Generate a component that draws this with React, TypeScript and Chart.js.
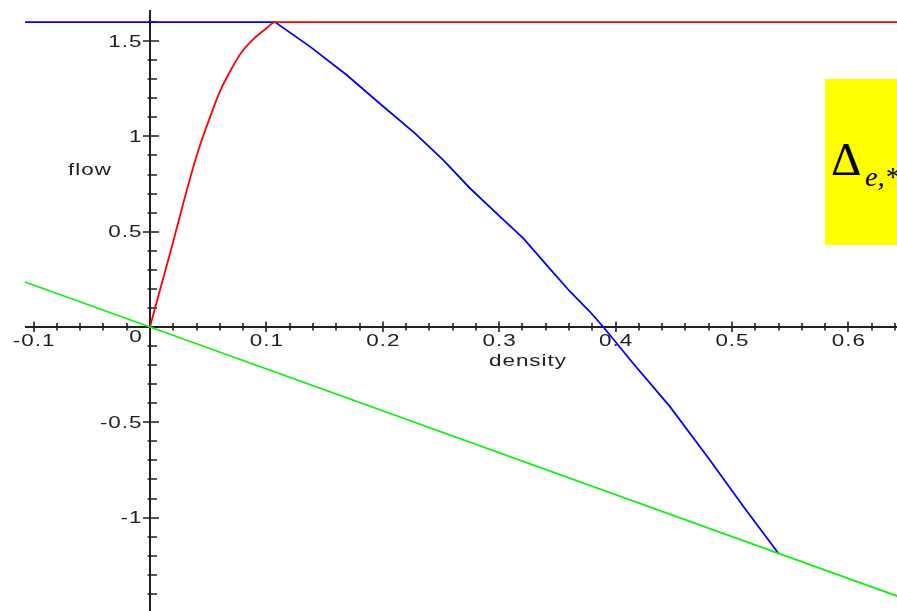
import React, { useEffect, useRef } from "react";
import { Chart, registerables } from "chart.js";

Chart.register(...registerables);

// Free-flow branch (red): density -> flow, then the capacity plateau
const redDensity = [0, 0.0043, 0.012, 0.02, 0.0286, 0.0372, 0.043, 0.0515, 0.06, 0.0687, 0.0773, 0.0888, 0.1, 0.1074, 0.642];
const redFlow = [0, 0.1, 0.27, 0.45, 0.65, 0.84, 0.955, 1.1, 1.235, 1.34, 1.43, 1.51, 1.567, 1.6, 1.6];

// Demand plateau and congested branch (blue)
const blueDensity = [-0.1074, 0.1074, 0.1375, 0.169, 0.1961, 0.2277, 0.252, 0.2749, 0.3007, 0.3208, 0.3408, 0.361, 0.378, 0.3895, 0.415, 0.4467, 0.481, 0.51, 0.54];
const blueFlow = [1.6, 1.6, 1.471, 1.322, 1.179, 1.016, 0.876, 0.728, 0.579, 0.465, 0.325, 0.185, 0.08, 0.0, -0.19, -0.418, -0.698, -0.943, -1.188];

// Straight line through the origin (green)
const greenDensity = [-0.1074, 0, 0.54, 0.642];
const greenFlow = [0.236, 0, -1.188, -1.412];

// Axis ranges and labelled ticks
const xRange = [-0.1289, 0.6418];
const yRange = [-1.49, 1.7156];
const xLabelTicks = [-0.1, 0.1, 0.2, 0.3, 0.4, 0.5, 0.6];
const xTickLabels = ["-0.1", "0.1", "0.2", "0.3", "0.4", "0.5", "0.6"];
const yLabelTicks = [1.5, 1, 0.5, -0.5, -1];
const yTickLabels = ["1.5", "1", "0.5", "-0.5", "-1"];
const xMinorStep = 0.02;
const yMinorStep = 0.1;
const xAxisTitle = "density";
const yAxisTitle = "flow";

const toPoints = (xs: number[], ys: number[]) => xs.map((x, i) => ({ x, y: ys[i] }));

const LABEL_FONT = "16px 'Liberation Sans', Arial, sans-serif";
const LABEL_STRETCH = 1.4;
const LABEL_SPACING = 1;
const INK = "#202020";

// Wide, slightly spaced labels in the style of the plotting package
function spacedText(
  ctx: CanvasRenderingContext2D,
  text: string,
  x: number,
  y: number,
  align: "left" | "center" | "right"
) {
  const chars = [...text];
  const widths = chars.map((c) => ctx.measureText(c).width * LABEL_STRETCH);
  const total = widths.reduce((a, b) => a + b, 0) + LABEL_SPACING * (chars.length - 1);
  let cx = align === "left" ? x : align === "center" ? x - total / 2 : x - total;
  chars.forEach((c, i) => {
    ctx.save();
    ctx.translate(cx, y);
    ctx.scale(LABEL_STRETCH, 1);
    ctx.fillText(c, 0, 0);
    ctx.restore();
    cx += widths[i] + LABEL_SPACING;
  });
}

// Axes crossing at the origin, with major/minor ticks
const crossAxes = {
  id: "crossAxes",
  beforeDatasetsDraw(chart: any) {
    const { ctx, chartArea } = chart;
    const xs = chart.scales.x;
    const ys = chart.scales.y;
    const x0 = Math.round(xs.getPixelForValue(0));
    const y0 = Math.round(ys.getPixelForValue(0));

    ctx.save();
    ctx.strokeStyle = INK;
    ctx.lineWidth = 2;
    ctx.lineCap = "butt";

    ctx.beginPath();
    ctx.moveTo(xs.getPixelForValue(-0.1074), y0);
    ctx.lineTo(chartArea.right, y0);
    ctx.moveTo(x0, ys.getPixelForValue(1.663));
    ctx.lineTo(x0, chartArea.bottom);
    ctx.stroke();

    ctx.lineWidth = 1.6;
    ctx.beginPath();
    for (let k = -5; k <= 32; k++) {
      if (k === 0) continue;
      const px = Math.round(xs.getPixelForValue(k * xMinorStep));
      const major = k % 5 === 0;
      ctx.moveTo(px, y0 - (major ? 5.5 : 4));
      ctx.lineTo(px, y0 + (major ? 5 : 3.5));
    }
    for (let k = -14; k <= 16; k++) {
      if (k === 0) continue;
      const py = Math.round(ys.getPixelForValue(k * yMinorStep));
      const major = k % 5 === 0;
      ctx.moveTo(x0 - (major ? 7 : 2.5), py);
      ctx.lineTo(x0 + (major ? 9 : 7), py);
    }
    ctx.stroke();

    ctx.fillStyle = INK;
    ctx.font = LABEL_FONT;
    ctx.textBaseline = "alphabetic";
    ctx.textAlign = "left";
    xLabelTicks.forEach((v, i) => {
      spacedText(ctx, xTickLabels[i], xs.getPixelForValue(v), y0 + 18.7, "center");
    });
    yLabelTicks.forEach((v, i) => {
      spacedText(ctx, yTickLabels[i], x0 - 8.5, ys.getPixelForValue(v) + 5.7, "right");
    });
    spacedText(ctx, "0", x0 - 14.5, y0 + 14.5, "center");
    spacedText(ctx, xAxisTitle, x0 + 339, y0 + 39, "left");
    spacedText(ctx, yAxisTitle, x0 - 82, y0 - 152, "left");
    ctx.restore();
  },
};

export default function App() {
  const canvasRef = useRef<HTMLCanvasElement | null>(null);

  useEffect(() => {
    if (!canvasRef.current) return;
    const line = (data: { x: number; y: number }[], color: string, smooth: boolean) => ({
      data,
      showLine: true,
      borderColor: color,
      backgroundColor: color,
      borderWidth: 1.8,
      pointRadius: 0,
      pointHoverRadius: 0,
      tension: 0,
      cubicInterpolationMode: smooth ? ("monotone" as const) : ("default" as const),
      fill: false,
    });
    const chart = new Chart(canvasRef.current, {
      type: "scatter",
      data: {
        datasets: [
          line(toPoints(greenDensity, greenFlow), "#12ee12", false),
          line(toPoints(redDensity, redFlow), "#ff0000", true),
          line(toPoints(blueDensity, blueFlow), "#0000ff", false),
        ],
      },
      options: {
        responsive: false,
        animation: false,
        events: [],
        layout: { padding: 0 },
        plugins: {
          legend: { display: false },
          tooltip: { enabled: false },
          title: { display: false },
        },
        scales: {
          x: { type: "linear", min: xRange[0], max: xRange[1], display: false },
          y: { type: "linear", min: yRange[0], max: yRange[1], display: false },
        },
      },
      plugins: [crossAxes],
    });
    return () => chart.destroy();
  }, []);

  return (
    <div
      style={{
        position: "fixed",
        left: 0,
        top: 0,
        width: 897,
        height: 611,
        overflow: "hidden",
        background: "#ffffff",
      }}
    >
      <canvas ref={canvasRef} width={897} height={611} style={{ display: "block" }} />
      <div
        style={{
          position: "absolute",
          left: 825,
          top: 79,
          width: 90,
          height: 166,
          background: "#ffff00",
        }}
      >
        <span
          style={{
            position: "absolute",
            left: 6,
            top: 57,
            font: "47px 'Liberation Serif', 'Times New Roman', serif",
            lineHeight: "47px",
            color: "#000",
            whiteSpace: "nowrap",
          }}
        >
          Δ
        </span>
        <span
          style={{
            position: "absolute",
            left: 40,
            top: 84,
            font: "italic 28px 'Liberation Serif', 'Times New Roman', serif",
            lineHeight: "28px",
            color: "#000",
            whiteSpace: "nowrap",
          }}
        >
          e,*
        </span>
      </div>
    </div>
  );
}
